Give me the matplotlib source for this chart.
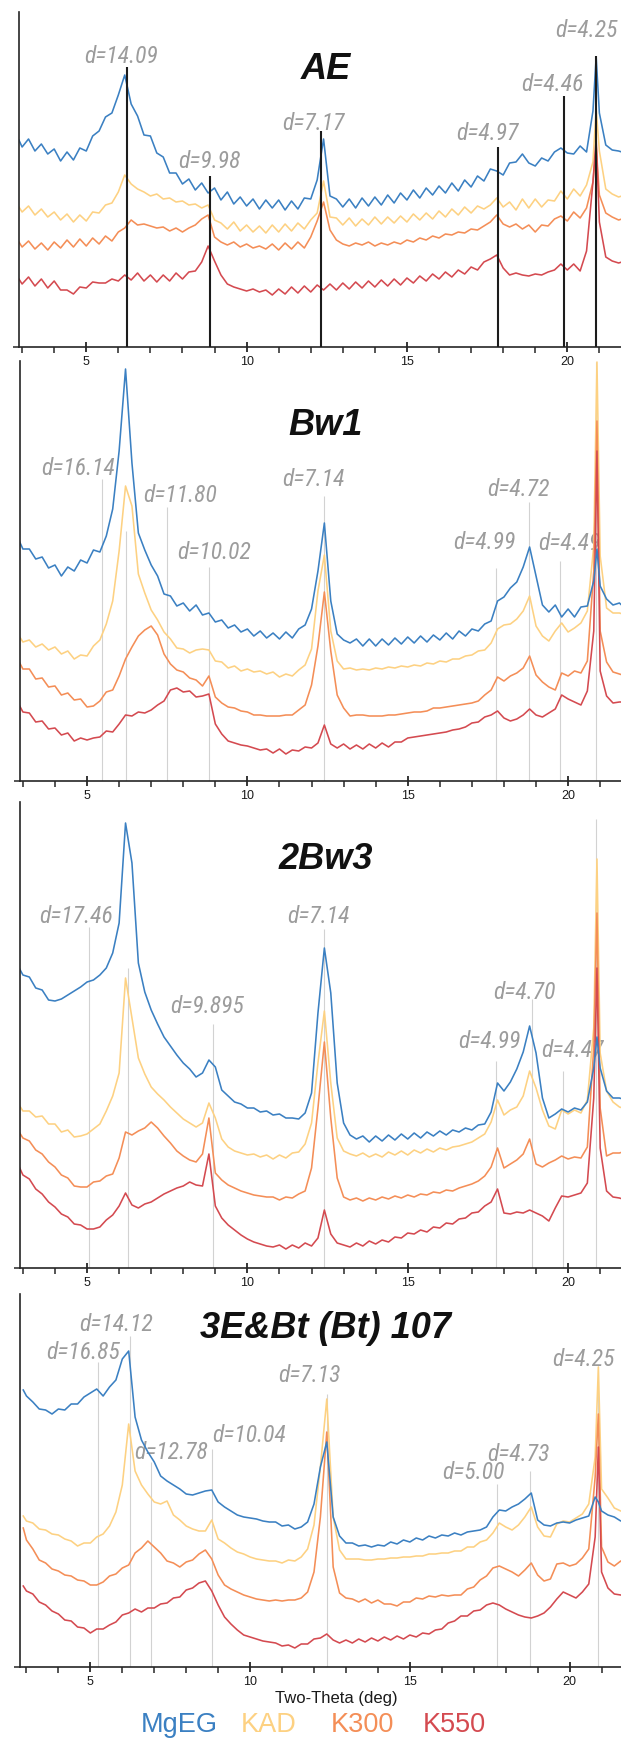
import numpy as np
import matplotlib.pyplot as plt
from matplotlib import font_manager
from matplotlib.ticker import FixedLocator, MultipleLocator

CU_KA = 1.5406  # angstrom

# scan steps (deg 2-theta), shared by every pattern
two_theta = np.round(np.sort(np.r_[2.9, np.arange(3.0, 21.61, 0.2), 20.9, 21.7]), 2)

series = ["MgEG", "KAD", "K300", "K550"]
colors = ["#3b80c2", "#fdd182", "#f48e57", "#d44a50"]

# ---- AE --------------------------------------------------------------
ae_mgeg = [207, 200, 208, 196, 203, 193, 198, 186, 195, 187,
           199, 196, 211, 216, 230, 234, 252, 272, 243, 231,
           212, 211, 194, 190, 174, 174, 163, 168, 157, 164,
           154, 159, 147, 155, 143, 150, 141, 148, 138, 147,
           139, 147, 137, 146, 138, 149, 148, 167, 208, 151,
           148, 140, 148, 139, 149, 141, 150, 142, 152, 144,
           154, 147, 157, 149, 159, 152, 161, 154, 164, 156,
           167, 160, 171, 166, 178, 176, 172, 184, 185, 193,
           184, 181, 189, 186, 195, 199, 194, 193, 201, 195,
           236, 290, 234, 202, 197, 196, 195]
ae_kad = [140, 135, 141, 132, 138, 130, 135, 127, 133, 125,
          132, 126, 135, 134, 142, 144, 155, 172, 163, 158,
          155, 151, 153, 148, 149, 145, 146, 142, 143, 139,
          142, 127, 124, 118, 125, 116, 122, 115, 121, 114,
          122, 115, 123, 116, 124, 118, 127, 134, 166, 130,
          129, 122, 129, 121, 128, 122, 130, 123, 130, 124,
          131, 125, 133, 127, 134, 128, 136, 130, 138, 132,
          140, 134, 141, 138, 142, 149, 140, 145, 137, 148,
          139, 148, 140, 147, 146, 156, 148, 158, 151, 162,
          185, 238, 196, 158, 153, 150, 151]
ae_k300 = [105, 100, 106, 98, 104, 97, 105, 99, 107, 100,
           108, 101, 109, 103, 111, 106, 115, 119, 127, 122,
           123, 121, 119, 120, 116, 119, 115, 119, 122, 128,
           132, 110, 105, 102, 105, 100, 103, 99, 101, 98,
           103, 97, 104, 98, 105, 99, 110, 126, 145, 117,
           107, 103, 101, 104, 102, 105, 101, 104, 102, 105,
           103, 107, 105, 109, 107, 111, 109, 113, 112, 115,
           114, 118, 117, 121, 125, 132, 123, 120, 123, 118,
           122, 115, 122, 121, 128, 131, 126, 135, 129, 139,
           165, 201, 152, 134, 130, 127, 128]
ae_k550 = [68, 63, 70, 61, 68, 59, 66, 57, 57, 53,
           60, 59, 65, 64, 64, 68, 66, 72, 67, 74,
           66, 72, 65, 72, 66, 74, 68, 75, 76, 85,
           101, 86, 72, 63, 60, 58, 56, 58, 55, 57,
           52, 58, 53, 60, 54, 61, 55, 62, 57, 63,
           57, 64, 58, 65, 59, 66, 60, 67, 61, 68,
           62, 69, 64, 71, 66, 73, 68, 75, 70, 77,
           73, 80, 77, 85, 88, 92, 79, 72, 74, 72,
           71, 73, 72, 75, 77, 83, 77, 83, 76, 96,
           165, 208, 125, 90, 86, 84, 85]
ae_d = ["14.09", "9.98", "7.17", "4.97", "4.46", "4.25"]
ae_d_extra = []

# ---- Bw1 -------------------------------------------------------------
bw1_mgeg = [239, 232, 232, 222, 224, 213, 216, 205, 214, 210,
            221, 218, 231, 229, 245, 272, 330, 412, 318, 248,
            231, 216, 205, 187, 185, 175, 178, 170, 176, 166,
            168, 159, 161, 153, 156, 149, 152, 145, 150, 143,
            148, 142, 149, 143, 152, 156, 172, 210, 258, 180,
            147, 141, 138, 142, 135, 142, 135, 142, 136, 143,
            137, 144, 138, 145, 139, 146, 141, 148, 142, 150,
            145, 152, 150, 157, 160, 180, 184, 193, 199, 214,
            234, 205, 176, 169, 176, 164, 172, 164, 174, 175,
            200, 232, 195, 182, 176, 178, 175]
bw1_kad = [144, 139, 141, 134, 137, 131, 134, 127, 130, 122,
           126, 125, 135, 141, 157, 180, 230, 295, 275, 207,
           188, 171, 161, 149, 142, 133, 132, 128, 131, 132,
           131, 120, 119, 113, 115, 110, 112, 109, 110, 107,
           109, 104, 107, 105, 111, 116, 132, 190, 226, 150,
           120, 112, 113, 111, 112, 111, 113, 112, 114, 113,
           115, 114, 116, 115, 118, 117, 120, 119, 122, 122,
           125, 126, 130, 131, 138, 152, 156, 157, 162, 170,
           185, 155, 145, 140, 150, 158, 149, 153, 158, 170,
           235, 419, 225, 173, 168, 168, 167]
bw1_k300 = [118, 112, 112, 102, 103, 94, 95, 86, 88, 81,
            82, 74, 75, 80, 89, 91, 105, 122, 134, 145,
            151, 155, 146, 127, 117, 111, 109, 103, 101, 95,
            105, 84, 78, 74, 73, 70, 69, 66, 66, 65,
            65, 65, 66, 66, 71, 76, 96, 135, 189, 130,
            86, 73, 65, 66, 66, 65, 65, 65, 66, 66,
            67, 68, 69, 69, 70, 73, 73, 74, 75, 76,
            77, 78, 80, 86, 91, 104, 100, 105, 108, 113,
            125, 106, 99, 94, 91, 108, 105, 110, 108, 120,
            210, 360, 150, 119, 109, 107, 106]
bw1_k550 = [75, 69, 68, 59, 60, 52, 53, 46, 48, 40,
            43, 41, 43, 44, 50, 49, 57, 66, 65, 69,
            68, 71, 76, 80, 91, 93, 89, 90, 84, 85,
            87, 57, 47, 40, 38, 36, 35, 33, 31, 32,
            28, 32, 27, 31, 30, 34, 33, 38, 56, 37,
            33, 37, 32, 36, 32, 37, 33, 38, 34, 39,
            39, 43, 44, 45, 46, 47, 48, 49, 51, 52,
            54, 58, 59, 64, 66, 70, 63, 60, 62, 66,
            72, 66, 64, 68, 72, 86, 82, 79, 76, 90,
            150, 330, 110, 85, 78, 79, 79]
bw1_d = ["16.14", "11.80", "10.02", "7.14", "4.99", "4.72", "4.49"]
bw1_d_extra = ["14.2", "4.25"]

# ---- 2Bw3 ------------------------------------------------------------
bw3_mgeg = [299, 293, 291, 280, 278, 268, 267, 269, 273, 277,
            281, 286, 288, 293, 300, 315, 345, 445, 405, 305,
            276, 258, 244, 231, 222, 213, 205, 199, 191, 195,
            208, 201, 178, 172, 166, 164, 160, 160, 156, 157,
            153, 154, 150, 150, 149, 155, 175, 255, 320, 275,
            185, 145, 133, 129, 132, 126, 132, 127, 133, 128,
            134, 129, 135, 130, 136, 132, 137, 133, 138, 136,
            140, 138, 143, 144, 156, 185, 177, 186, 199, 216,
            242, 215, 170, 150, 154, 159, 156, 160, 158, 166,
            200, 231, 200, 177, 170, 170, 169]
bw3_kad = [162, 157, 157, 151, 152, 144, 144, 136, 138, 131,
           132, 134, 139, 144, 157, 172, 195, 290, 250, 210,
           194, 181, 174, 168, 161, 155, 149, 145, 141, 145,
           165, 150, 129, 121, 117, 115, 113, 114, 111, 113,
           109, 113, 110, 115, 116, 124, 145, 205, 257, 185,
           130, 117, 114, 112, 115, 111, 114, 111, 116, 113,
           117, 113, 118, 115, 119, 116, 120, 118, 121, 122,
           124, 126, 130, 134, 146, 168, 153, 158, 161, 172,
           197, 180, 158, 142, 139, 158, 154, 158, 155, 168,
           240, 409, 215, 177, 166, 161, 160]
bw3_k300 = [135, 130, 127, 118, 114, 106, 101, 93, 90, 82,
            81, 81, 86, 87, 92, 94, 110, 136, 133, 137,
            140, 146, 140, 132, 125, 117, 112, 108, 106, 114,
            150, 95, 88, 83, 80, 77, 75, 73, 72, 71,
            71, 68, 71, 70, 74, 77, 100, 160, 226, 150,
            90, 71, 68, 70, 67, 70, 68, 71, 69, 72,
            70, 73, 71, 74, 73, 76, 75, 78, 77, 80,
            82, 84, 87, 92, 101, 120, 100, 104, 108, 114,
            129, 104, 101, 105, 108, 112, 109, 111, 110, 121,
            220, 355, 160, 112, 115, 115, 116]
bw3_k550 = [100, 93, 89, 79, 74, 66, 61, 54, 51, 44,
            43, 39, 39, 41, 48, 53, 62, 75, 63, 60,
            64, 66, 70, 74, 77, 80, 82, 86, 83, 82,
            114, 62, 50, 43, 38, 33, 29, 26, 24, 22,
            21, 23, 19, 23, 20, 25, 22, 30, 58, 34,
            25, 23, 21, 25, 22, 27, 24, 28, 26, 31,
            30, 35, 34, 38, 36, 41, 40, 45, 44, 49,
            50, 55, 56, 62, 66, 79, 55, 54, 56, 55,
            58, 55, 52, 47, 60, 72, 71, 73, 75, 85,
            170, 300, 120, 77, 71, 70, 69]
bw3_d = ["17.46", "9.895", "7.14", "4.99", "4.70", "4.47"]
bw3_d_extra = ["14.1", "4.25"]

# ---- 3E&Bt (Bt) 107 --------------------------------------------------
e3_mgeg = [277, 271, 265, 258, 257, 253, 258, 257, 263, 263,
           270, 274, 278, 271, 280, 287, 308, 316, 250, 227,
           215, 205, 191, 186, 182, 178, 173, 172, 174, 176,
           177, 165, 160, 156, 152, 150, 149, 148, 146, 145,
           145, 141, 142, 138, 140, 145, 163, 200, 225, 150,
           131, 124, 124, 121, 122, 120, 122, 121, 125, 123,
           127, 125, 129, 127, 131, 129, 132, 131, 134, 132,
           135, 136, 137, 140, 150, 157, 156, 160, 163, 168,
           174, 147, 142, 141, 144, 145, 144, 147, 149, 151,
           170, 165, 156, 152, 150, 146, 147]
e3_kad = [151, 146, 144, 138, 137, 133, 132, 128, 126, 121,
          124, 124, 130, 133, 141, 155, 182, 243, 196, 182,
          173, 165, 163, 166, 152, 147, 141, 138, 136, 136,
          147, 128, 124, 119, 115, 113, 110, 108, 107, 106,
          106, 104, 107, 106, 110, 118, 142, 200, 268, 150,
          117, 108, 108, 108, 107, 107, 108, 108, 109, 109,
          110, 110, 111, 111, 113, 113, 114, 114, 116, 116,
          120, 120, 125, 127, 134, 144, 140, 137, 142, 150,
          160, 140, 131, 130, 143, 146, 145, 149, 153, 163,
          210, 300, 178, 169, 159, 156, 155]
e3_k300 = [139, 127, 118, 107, 104, 98, 96, 92, 91, 87,
           86, 82, 82, 85, 91, 93, 99, 102, 114, 119,
           126, 120, 114, 106, 104, 100, 105, 107, 113, 117,
           108, 92, 82, 78, 75, 72, 70, 68, 67, 66,
           67, 66, 67, 67, 69, 75, 95, 150, 235, 100,
           74, 69, 68, 65, 68, 64, 67, 63, 63, 61,
           65, 65, 69, 68, 71, 70, 72, 71, 72, 72,
           78, 80, 87, 91, 99, 101, 98, 95, 91, 97,
           104, 92, 86, 88, 103, 104, 101, 103, 109, 118,
           190, 253, 120, 105, 101, 106, 103]
e3_k550 = [81, 76, 73, 65, 62, 56, 53, 47, 46, 40,
           39, 34, 38, 38, 42, 45, 52, 54, 58, 55,
           59, 59, 63, 64, 69, 70, 77, 79, 84, 86,
           76, 62, 50, 43, 37, 32, 30, 28, 26, 25,
           24, 21, 22, 19, 23, 23, 28, 29, 33, 27,
           24, 27, 24, 28, 25, 29, 26, 30, 27, 31,
           28, 32, 30, 34, 33, 37, 38, 44, 46, 51,
           51, 56, 57, 62, 64, 62, 58, 55, 52, 50,
           49, 51, 54, 60, 68, 75, 72, 69, 75, 83,
           130, 220, 95, 79, 73, 72, 71]
e3_d = ["16.85", "14.12", "12.78", "10.04", "7.13", "5.00", "4.73", "4.25"]
e3_d_extra = []


def bragg_2theta(d):
    return np.degrees(2 * np.arcsin(CU_KA / (2 * float(d))))


# ---- layout (pixels) -------------------------------------------------
W, H = 621, 1740
# axis row, top of y spine, left spine, px = a + b * deg, title baseline
FRAMES = [
    dict(base=348, top=13, spine=18.6, a=-74.1, b=32.07, title_y=79.3),
    dict(base=782, top=362, spine=19.8, a=-73.3, b=32.07, title_y=435),
    dict(base=1269, top=803, spine=19.8, a=-73.3, b=32.07, title_y=869.3),
    dict(base=1668, top=1295, spine=19.8, a=-69.4, b=31.95, title_y=1338.3),
]
# per label: (text shift in deg, text baseline height, guide-line top height)
TAGS = [
    [(-0.19, 284.7, 279.7), (0.0, 179.7, 171), (-0.26, 218, 216),
     (-0.33, 208, 199.7), (-0.35, 257.3, 251), (-0.30, 311.3, 291)],
    [(-0.75, 307, 302), (0.41, 280.3, 273.7), (0.13, 222.7, 213.7),
     (-0.34, 296, 285.3), (-0.38, 232.7, 212.7), (-0.33, 286, 278.7),
     (0.29, 232, 220.3)],
    [(-0.40, 346.3, 340.7), (-0.17, 256.3, 244), (-0.16, 346.3, 339),
     (-0.22, 220.7, 207.3), (-0.22, 269.7, 269), (0.30, 212.3, 197.3)],
    [(-0.48, 308.7, 304.7), (-0.44, 337, 331.3), (0.62, 208.7, 204.7),
     (1.18, 225.7, 218), (-0.54, 285.7, 273), (-0.73, 188.7, 183),
     (-0.33, 207.3, 196.3), (-0.45, 302, 301.3)],
]
EXTRA_TOPS = [[], [250, 419], [300, 449], []]

panels = [
    ("AE", (ae_mgeg, ae_kad, ae_k300, ae_k550), ae_d, ae_d_extra),
    ("Bw1", (bw1_mgeg, bw1_kad, bw1_k300, bw1_k550), bw1_d, bw1_d_extra),
    ("2Bw3", (bw3_mgeg, bw3_kad, bw3_k300, bw3_k550), bw3_d, bw3_d_extra),
    ("3E&Bt (Bt) 107", (e3_mgeg, e3_kad, e3_k300, e3_k550), e3_d, e3_d_extra),
]

# ---- fonts -----------------------------------------------------------
installed = {f.name for f in font_manager.fontManager.ttflist}


def first_font(*names):
    for n in names:
        if n in installed:
            return n
    return "DejaVu Sans"


SANS = first_font("Liberation Sans", "Arimo", "DejaVu Sans")
NARROW = first_font("Liberation Sans Narrow", "Roboto Condensed", SANS)
TAG_SIZE = 17 if NARROW != SANS else 14
plt.rcParams["font.family"] = [SANS, "DejaVu Sans"]

AXIS_COLOR = "#262626"

fig = plt.figure(figsize=(W / 100, H / 100), dpi=100)

for i, (name, traces, dvals, dextra) in enumerate(panels):
    fr = FRAMES[i]
    left = fr["spine"] / W
    ax = fig.add_axes([left, 1 - fr["base"] / H, 1 - left, (fr["base"] - fr["top"]) / H])
    # transparent, so the tick labels of the panel above stay visible
    ax.set_facecolor("none")
    ax.set_xlim((fr["spine"] - fr["a"]) / fr["b"], (W - fr["a"]) / fr["b"])
    ax.set_ylim(0, fr["base"] - fr["top"])

    # KAD underneath, MgEG on top
    for k, z in ((1, 2.0), (2, 2.1), (3, 2.2), (0, 2.5)):
        ax.plot(two_theta, traces[k], color=colors[k], lw=1.15, zorder=z,
                solid_joinstyle="round")

    dark = i == 0
    line_kw = dict(color="#1c1c1c", lw=1.5, zorder=4) if dark else dict(color="#d2d2d2", lw=0.8, zorder=1)
    for d, (dx, base_h, top_h) in zip(dvals, TAGS[i]):
        x = bragg_2theta(d)
        ax.vlines(x, 0, top_h, **line_kw)
        ax.text(x + dx, base_h, "d=" + d, ha="center", va="baseline", family=NARROW,
                style="italic", fontsize=TAG_SIZE, color="#9c9c9c", zorder=1.5, clip_on=False)
    for d, top_h in zip(dextra, EXTRA_TOPS[i]):
        ax.vlines(bragg_2theta(d), 0, top_h, **line_kw)

    fig.text(326 / W, 1 - fr["title_y"] / H, name, ha="center", va="baseline",
             fontsize=26, fontweight="bold", style="italic", color="#111111")

    ax.spines[["top", "right"]].set_visible(False)
    for s in ("left", "bottom"):
        ax.spines[s].set_linewidth(1.2)
        ax.spines[s].set_color(AXIS_COLOR)
    ax.xaxis.set_major_locator(FixedLocator([5, 10, 15, 20]))
    ax.xaxis.set_minor_locator(MultipleLocator(1))
    ax.tick_params(axis="x", which="major", direction="inout", length=7, width=1.3,
                   color=AXIS_COLOR, labelsize=9, pad=2.5, labelcolor="#1a1a1a")
    ax.tick_params(axis="x", which="minor", direction="out", length=4.5, width=1.1,
                   color=AXIS_COLOR)
    ax.set_yticks([0])
    ax.tick_params(axis="y", direction="out", length=4, width=1.1, color=AXIS_COLOR,
                   labelleft=False)

    if i == len(panels) - 1:
        ax.set_xlabel("Two-Theta (deg)", fontsize=12, color="#1a1a1a")
        ax.xaxis.label.set_va("baseline")
        ax.xaxis.set_label_coords((336.6 - fr["spine"]) / (W - fr["spine"]),
                                  (fr["base"] - 1703.3) / (fr["base"] - fr["top"]))

# colour key under the bottom axis
for label, color, x_px in zip(series, colors, (140.6, 240.8, 330.7, 423.0)):
    fig.text(x_px / W, 1 - 1732.5 / H, label, ha="left", va="baseline",
             fontsize=19.5, color=color)

fig.savefig("out.png", dpi=100)
